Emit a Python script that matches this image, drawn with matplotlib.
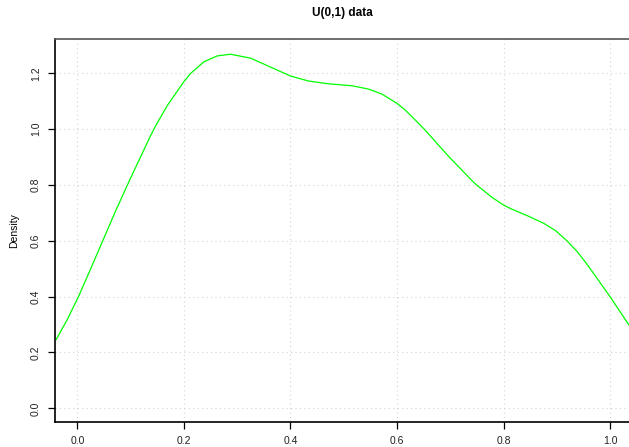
import matplotlib
matplotlib.use("Agg")
import matplotlib.pyplot as plt

# kernel density estimate of the U(0,1) sample, read at these x positions
dens_x = [-0.040, -0.019, 0.002, 0.0218, 0.0469, 0.0718, 0.0968, 0.137, 0.147,
          0.169, 0.2, 0.2125, 0.2375, 0.2625, 0.2875, 0.325, 0.372, 0.4, 0.434,
          0.472, 0.516, 0.547, 0.572, 0.6, 0.6156, 0.633, 0.653, 0.697, 0.741,
          0.748, 0.778, 0.8, 0.8125, 0.822, 0.848, 0.875, 0.898, 0.919, 0.938,
          0.956, 1.0, 1.036]
dens_y = [0.246, 0.318, 0.400, 0.486, 0.597, 0.707, 0.812, 0.975, 1.012,
          1.085, 1.170, 1.199, 1.241, 1.262, 1.268, 1.254, 1.214, 1.190, 1.172,
          1.162, 1.155, 1.143, 1.125, 1.092, 1.068, 1.035, 0.996, 0.902, 0.815,
          0.802, 0.756, 0.728, 0.716, 0.708, 0.687, 0.663, 0.636, 0.600, 0.562,
          0.518, 0.400, 0.297]

x_ticks = [0.0, 0.2, 0.4, 0.6, 0.8, 1.0]
y_ticks = [0.0, 0.2, 0.4, 0.6, 0.8, 1.0, 1.2]

plt.rcParams['font.family'] = ['Liberation Sans', 'DejaVu Sans']

W, H = 629, 447
fig = plt.figure(figsize=(W / 100, H / 100), dpi=100)
# plot region in pixels: left 55.3, right 629, top 38.7, bottom 422.3
ax = fig.add_axes([55.3 / W, (H - 422.3) / H, (W - 55.3) / W, (422.3 - 38.7) / H])

ax.plot(dens_x, dens_y, color='#00ff00', linewidth=0.9,
        solid_joinstyle='round', solid_capstyle='round')

ax.set_xlim(-0.0415, 1.0356)
ax.set_ylim(-0.05, 1.3236)
ax.set_xticks(x_ticks)
ax.set_yticks(y_ticks)
ax.set_xticklabels(['%.1f' % v for v in x_ticks])
ax.set_yticklabels(['%.1f' % v for v in y_ticks], rotation=90, va='center')

# light dotted grid at the tick positions
ax.grid(True, color='#d3d3d3', linestyle=(0, (1, 3)), linewidth=0.8)
ax.set_axisbelow(True)

ax.tick_params(axis='both', direction='out', length=5, width=0.9,
               labelsize=7.5, colors='black', labelcolor='#222222')
ax.tick_params(axis='x', pad=5)
ax.tick_params(axis='y', pad=5.5)

for side in ['left', 'bottom']:
    ax.spines[side].set_color('black')
    ax.spines[side].set_linewidth(1.2)
ax.spines['top'].set_color('#555555')
ax.spines['top'].set_linewidth(1.2)
ax.spines['right'].set_visible(False)

ax.set_ylabel('Density', fontsize=7.5, labelpad=8)
fig.text((55.3 + W) / 2 / W, 1 - 13 / H, 'U(0,1) data', ha='center', va='center',
         fontsize=8.5, fontweight='bold')

fig.savefig('out.png', dpi=100)
